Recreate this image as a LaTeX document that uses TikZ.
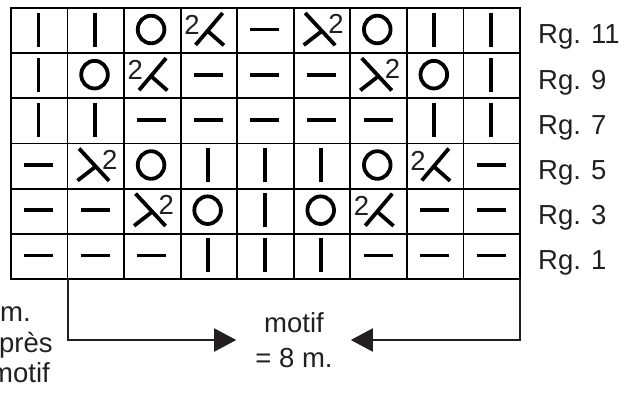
\documentclass[tikz,border=0pt]{standalone}
\usepackage{fontspec}
\setmainfont{Liberation Sans}
\usetikzlibrary{arrows.meta,positioning}
\definecolor{ink}{RGB}{35,31,32}

\tikzset{
    gridline/.style={line width=1.8pt, line cap=rect},
    sym/.style={line width=3.8pt},
    lbl/.style={font=\fontsize{27.5}{33}\selectfont, text=ink, inner sep=0pt},
    conn/.style={line width=2pt, ink},
    knit/.pic={\draw[sym] (-0.8,-18) -- (-0.8,16);},
    purl/.pic={\draw[sym] (-15,-1) -- (14,-1);},
    yo/.pic={\draw[sym] (-1.3,-1.1) ellipse[x radius=13.3pt, y radius=13.8pt];},
    ktogl/.pic={
        \draw[sym] (-13.3,14.4) -- (13.7,-17.6) (-1.3,0.4) -- (15,14.7);
        \node[lbl] (-two) at (-17,-5.6) {2};},
    ktogr/.pic={
        \draw[sym] (-16.8,-17.6) -- (13.2,14.7) (-0.2,0.5) -- (-18.3,14.5);
        \node[lbl] (-two) at (14,-6.5) {2};}
}

\begin{document}
\begin{tikzpicture}[x=1pt, y=-1pt]
    \useasboundingbox (0,0) rectangle (624,392);
    \fill[white] (0,0) rectangle (624,392);
    \clip (0,0) rectangle (624,392);

    % chart
    \foreach \c in {0,...,9}
        \draw[gridline] ({11+56.55*\c},8) -- ({11+56.55*\c},279);
    \foreach \r in {0,...,6}
        \draw[gridline] (11,{8+45.17*\r}) -- (520,{8+45.17*\r});

    \foreach \row [count=\r] in {
        {knit,knit,yo,ktogl,purl,ktogr,yo,knit,knit},
        {knit,yo,ktogl,purl,purl,purl,ktogr,yo,knit},
        {knit,knit,purl,purl,purl,purl,purl,knit,knit},
        {purl,ktogr,yo,knit,knit,knit,yo,ktogl,purl},
        {purl,purl,ktogr,yo,knit,yo,ktogl,purl,purl},
        {purl,purl,purl,knit,knit,knit,purl,purl,purl}}
        \foreach \s [count=\c] in \row
            \pic (st-\r-\c) at ({11+56.55*\c-28.28},{8+45.17*\r-22.58}) {\s};

    % rows
    \foreach \n [count=\r] in {11,9,7,5,3,1}
        \node[lbl, anchor=base west] (rg\n) at (538,{8+45.17*\r-9.3}) {Rg. \n};

    % repeat
    \coordinate (gridL) at (67.55,279);
    \coordinate (gridR) at (520,279);
    \node[lbl, align=center, font=\fontsize{27.5}{35}\selectfont] (motif) at (294,340) {motif\\= 8 m.};
    \draw[conn, -{Triangle[length=22pt,width=23pt]}, shorten >=19pt] (gridL) |- (motif);
    \draw[conn, -{Triangle[length=22pt,width=23pt]}, shorten >=18pt] (gridR) |- (motif);

    \node[lbl, anchor=base west] (rest1) at (0,321) {m.};
    \node[lbl, anchor=base west] (rest2) at (-1,352) {près};
    \node[lbl, anchor=base west] (rest3) at (-10,382) {motif};
\end{tikzpicture}
\end{document}
